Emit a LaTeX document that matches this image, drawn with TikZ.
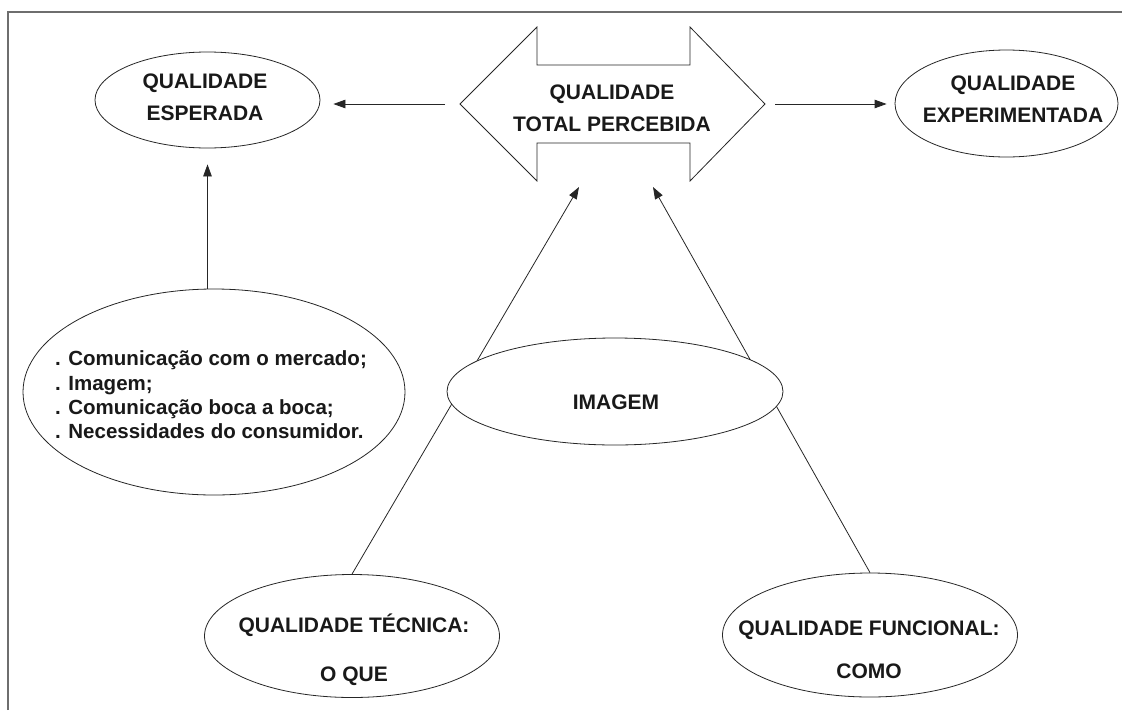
\documentclass[tikz,border=0pt]{standalone}
\usepackage{fontspec}
\setmainfont{Liberation Sans}
\usetikzlibrary{arrows.meta,shapes.geometric}
\begin{document}
\begin{tikzpicture}[x=1pt,y=-1pt,
  oval/.style={ellipse,draw=black!85,line width=0.8pt,fill=white,inner sep=0pt},
  lbl/.style={font=\fontsize{21}{32}\selectfont\bfseries,align=center,inner sep=0pt,text=black!90},
  body/.style={font=\fontsize{20.5}{24.3}\selectfont\bfseries,align=left,inner sep=0pt,text=black!90},
  conn/.style={draw=black!85,line width=0.8pt},
  arr/.style={conn,-{Triangle[length=12pt,width=8.5pt]}}]
\useasboundingbox (0,0) rectangle (1122,710);
% frame
\draw[line width=1.8pt,draw={rgb,255:red,110;green,110;blue,110}] (8,710) -- (8,12) -- (1122,12);

% central double arrow
\draw[conn,fill=white] (460,104) -- (537,27) -- (537,65) -- (690,65) -- (690,27) -- (765,104)
  -- (690,181) -- (690,143) -- (537,143) -- (537,181) -- cycle;
\node[lbl] (qtp) at (612,108) {QUALIDADE\\TOTAL PERCEBIDA};
\coordinate (qtpW) at (445,104);
\coordinate (qtpE) at (775,104);
\coordinate (inL) at (579,187);
\coordinate (inR) at (653,187);

% side ellipses
\node[oval,minimum width=225pt,minimum height=96pt] (esp) at (207.5,100) {};
\node[lbl] (espT) at (205,97) {QUALIDADE\\ESPERADA};
\node[oval,minimum width=223pt,minimum height=107pt] (exp) at (1006.5,103.5) {};
\node[lbl] (expT) at (1013,99) {QUALIDADE\\EXPERIMENTADA};

% determinants
\node[oval,minimum width=382pt,minimum height=206pt] (fat) at (214,392) {};
\node[body] (fatT) at (211,395) {. Comunicação com o mercado;\\. Imagem;\\. Comunicação boca a boca;\\. Necessidades do consumidor.};

% technical and functional quality
\node[oval,minimum width=295pt,minimum height=123pt] (tec) at (352,636) {};
\node[lbl,font=\fontsize{21}{49}\selectfont\bfseries] (tecT) at (354,650) {QUALIDADE TÉCNICA:\\O QUE};
\node[oval,minimum width=295pt,minimum height=124pt] (fun) at (870,635) {};
\node[lbl,font=\fontsize{21}{43}\selectfont\bfseries] (funT) at (869,650) {QUALIDADE FUNCIONAL:\\COMO};

% connectors
\draw[arr,shorten >=13pt] (qtpW) -- (qtpW -| esp.east);
\draw[arr,shorten >=8pt] (qtpE) -- (qtpE -| exp.west);
\draw[arr,shorten >=16pt] (esp.south |- fat.north) -- (esp.south);
\draw[arr] (tec.north) -- (inL);
\draw[arr] (fun.north) -- (inR);

% image ellipse drawn over the two lines
\node[oval,minimum width=336pt,minimum height=107pt] (img) at (615,391.5) {};
\node[lbl] (imgT) at (616,402) {IMAGEM};
\end{tikzpicture}
\end{document}
